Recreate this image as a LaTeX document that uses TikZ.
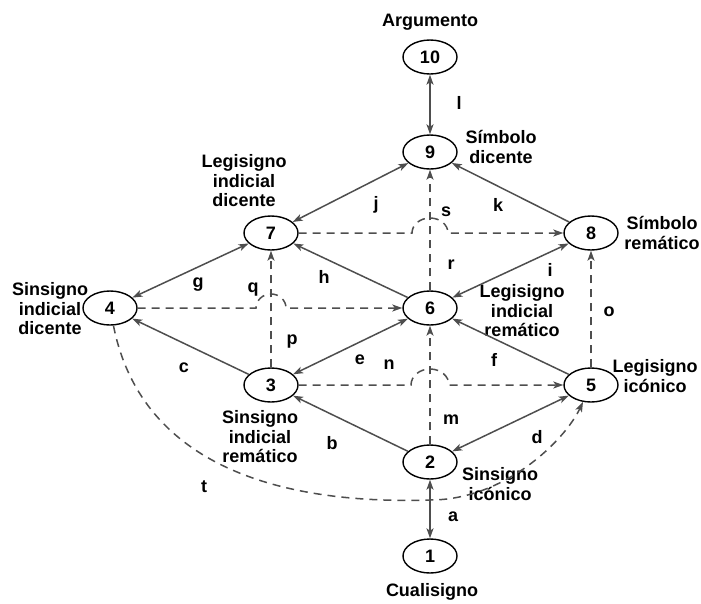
\documentclass[tikz,border=0pt]{standalone}
\usepackage{fontspec}
\setmainfont{Liberation Sans}
\usetikzlibrary{shapes.geometric,arrows.meta}
\definecolor{edgegray}{RGB}{78,78,78}
\begin{document}
\begin{tikzpicture}[x=1pt,y=1pt,
  >={Stealth[length=10pt,width=7pt,inset=2.5pt]},
  sign/.style={ellipse,draw=black,line width=1.4pt,minimum width=54pt,
    minimum height=34pt,inner sep=0pt,font=\fontsize{18}{19}\selectfont\bfseries},
  lbl/.style={align=center,inner sep=0pt,font=\fontsize{18}{19.5}\selectfont\bfseries},
  elbl/.style={inner sep=0pt,font=\fontsize{18}{19}\selectfont\bfseries},
  link/.style={draw=edgegray,line width=1.5pt},
  dlink/.style={link,dash pattern=on 8pt off 6pt}
]
\useasboundingbox (0,0) rectangle (701,-603);

% signs
\node[sign] (n10) at (430,-57) {10};
\node[sign] (n9)  at (430,-152) {9};
\node[sign] (n7)  at (271,-233) {7};
\node[sign] (n8)  at (591,-233) {8};
\node[sign] (n4)  at (110,-308) {4};
\node[sign] (n6)  at (430,-308) {6};
\node[sign] (n3)  at (271,-385) {3};
\node[sign] (n5)  at (591,-385) {5};
\node[sign] (n2)  at (430,-462) {2};
\node[sign] (n1)  at (430,-556) {1};

% names of the classes
\node[lbl] (tArg) at (430,-22) {Argumento};
\node[lbl] (tSd)  at (501,-147) {Símbolo\\dicente};
\node[lbl] (tLid) at (244,-181) {Legisigno\\indicial\\dicente};
\node[lbl] (tSr)  at (662,-233) {Símbolo\\remático};
\node[lbl] (tSid) at (50,-309) {Sinsigno\\indicial\\dicente};
\node[lbl] (tLir) at (522,-311) {Legisigno\\indicial\\remático};
\node[lbl] (tLi)  at (655,-376) {Legisigno\\icónico};
\node[lbl] (tSir) at (260,-437) {Sinsigno\\indicial\\remático};
\node[lbl] (tSi)  at (500,-484) {Sinsigno\\icónico};
\node[lbl] (tCu)  at (432,-592) {Cualisigno};

% hop points on crossing dashed lines
\coordinate (hA) at (411,-385);
\coordinate (hB) at (412,-233);
\coordinate (hC) at (256,-308);
\coordinate (tlow) at (430,-500);

% solid links
\draw[link,<->] (n1) -- (n2);
\draw[link,<->] (n10) -- (n9);
\draw[link,->] (n2) -- (n3);
\draw[link,->] (n3) -- (n4);
\draw[link,<->] (n2) -- (n5);
\draw[link,<->] (n6) -- (n3);
\draw[link,->] (n5) -- (n6);
\draw[link,<->] (n7) -- (n4);
\draw[link,->] (n6) -- (n7);
\draw[link,<->] (n6) -- (n8);
\draw[link,<->] (n7) -- (n9);
\draw[link,->] (n8) -- (n9);

% dashed links
\draw[dlink,->] (n2) -- (n6);
\draw[dlink,->] (n6) -- (n9);
\draw[dlink,->] (n3) -- (n7);
\draw[dlink,->] (n5) -- (n8);
\draw[dlink,->] (n3) -- (hA) arc[start angle=180,end angle=0,x radius=19,y radius=16] -- (n5);
\draw[dlink,->] (n7) -- (hB) arc[start angle=180,end angle=0,x radius=18,y radius=15] -- (n8);
\draw[dlink,->] (n4) -- (hC) arc[start angle=180,end angle=0,x radius=15,y radius=14] -- (n6);
\draw[dlink,->] (n4) .. controls (140,-460) and (270,-505) .. (tlow)
  .. controls (505,-500) and (565,-440) .. (n5);

% link letters
\node[elbl] (la) at (453,-517) {a};
\node[elbl] (lb) at (332,-443) {b};
\node[elbl] (lc) at (184,-368) {c};
\node[elbl] (ld) at (537,-437) {d};
\node[elbl] (le) at (360,-360) {e};
\node[elbl] (lf) at (494,-360) {f};
\node[elbl] (lg) at (198,-285) {g};
\node[elbl] (lh) at (324,-277) {h};
\node[elbl] (li) at (550,-270) {i};
\node[elbl] (lj) at (376,-205) {j};
\node[elbl] (lk) at (498,-205) {k};
\node[elbl] (ll) at (459,-103) {l};
\node[elbl] (lm) at (451,-420) {m};
\node[elbl] (ln) at (389,-365) {n};
\node[elbl] (lo) at (609,-312) {o};
\node[elbl] (lp) at (292,-342) {p};
\node[elbl] (lq) at (253,-290) {q};
\node[elbl] (lr) at (451,-265) {r};
\node[elbl] (ls) at (446,-212) {s};
\node[elbl] (lt) at (204,-487) {t};
\end{tikzpicture}
\end{document}
